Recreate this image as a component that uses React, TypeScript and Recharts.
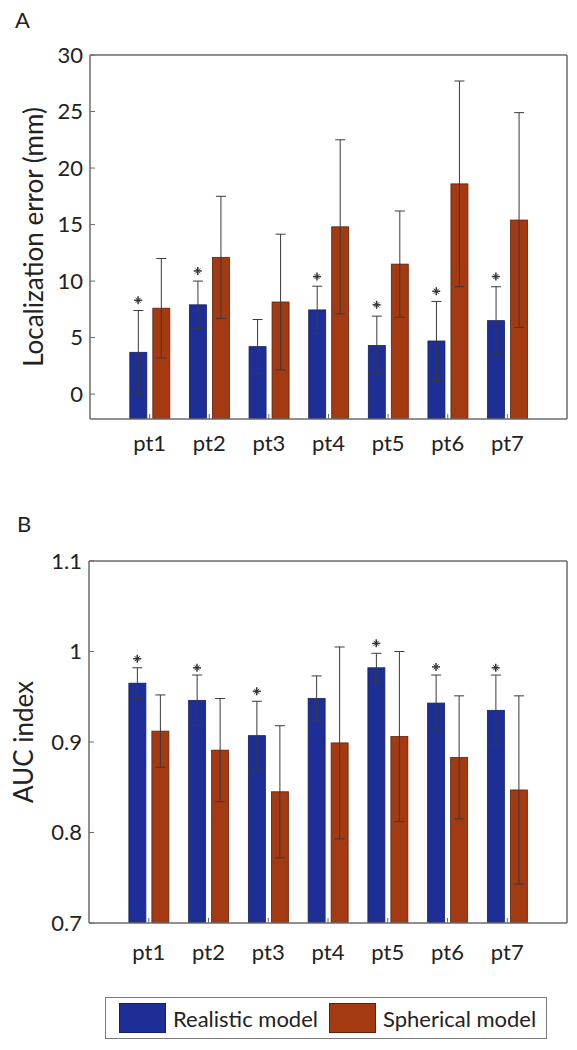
import React from 'react';
import { ComposedChart, Bar, Scatter, XAxis, YAxis, ErrorBar } from 'recharts';

const patients = ['pt1', 'pt2', 'pt3', 'pt4', 'pt5', 'pt6', 'pt7'];

// panel A: localization error (mm)
const locRealistic = [3.7, 7.9, 4.2, 7.45, 4.3, 4.7, 6.5];
const locRealisticSd = [3.7, 2.1, 2.4, 2.1, 2.6, 3.5, 3.0];
const locSpherical = [7.6, 12.1, 8.15, 14.8, 11.5, 18.6, 15.4];
const locSphericalSd = [4.4, 5.4, 6.0, 7.7, 4.7, 9.1, 9.5];
const locStars = [8.3, 10.9, null, 10.4, 7.9, 9.1, 10.4];
const locTicks = [0, 5, 10, 15, 20, 25, 30];

// panel B: AUC index
const aucRealistic = [0.965, 0.946, 0.907, 0.948, 0.982, 0.943, 0.935];
const aucRealisticSd = [0.017, 0.028, 0.038, 0.025, 0.016, 0.031, 0.039];
const aucSpherical = [0.912, 0.891, 0.845, 0.899, 0.906, 0.883, 0.847];
const aucSphericalSd = [0.04, 0.057, 0.073, 0.106, 0.094, 0.068, 0.104];
const aucStars = [0.992, 0.982, 0.956, null, 1.009, 0.983, 0.982];
const aucTicks = [0.7, 0.8, 0.9, 1, 1.1];

const BLUE = '#1d2f97';
const RED = '#a33a12';
const AXIS = '#6b6b6b';
const INK = '#222';
const FONT = 'Lato, "DejaVu Sans", sans-serif';
const BAR_SIZE = 17;
const BAR_GAP = 6;

const buildRows = (r: number[], rsd: number[], s: number[], ssd: number[], stars: (number | null)[]) =>
  patients.map((name, i) => ({
    name,
    realistic: r[i],
    realisticSd: rsd[i],
    spherical: s[i],
    sphericalSd: ssd[i],
    star: stars[i],
  }));

const locData = buildRows(locRealistic, locRealisticSd, locSpherical, locSphericalSd, locStars);
const aucData = buildRows(aucRealistic, aucRealisticSd, aucSpherical, aucSphericalSd, aucStars);

// matlab-style bars run down to the bottom of the axes box
const FloorBar = (p: any) => {
  const bottom = p.background ? p.background.y + p.background.height : p.y + p.height;
  return (
    <rect
      x={p.x}
      y={p.y}
      width={p.width}
      height={Math.max(bottom - p.y, 0)}
      fill={p.fill}
      stroke={p.stroke}
      strokeWidth={p.strokeWidth}
    />
  );
};

// significance mark, drawn above the blue bar of the group
const StarMark = (props: any) => {
  const { cx, cy, payload } = props;
  if (payload == null || payload.star == null || cx == null || cy == null) return <g />;
  const x = cx - (BAR_SIZE + BAR_GAP) / 2;
  return (
    <g stroke="#333" strokeWidth={1.5}>
      <line x1={x - 4} y1={cy} x2={x + 4} y2={cy} />
      <line x1={x} y1={cy - 4} x2={x} y2={cy + 4} />
      <line x1={x - 2.5} y1={cy - 2.5} x2={x + 2.5} y2={cy + 2.5} strokeWidth={1} />
      <line x1={x - 2.5} y1={cy + 2.5} x2={x + 2.5} y2={cy - 2.5} strokeWidth={1} />
    </g>
  );
};

type PanelProps = {
  data: any[];
  domain: [number, number];
  ticks: number[];
  yLabel: string;
  labelX: number;
  height: number;
  top: number;
  axisWidth: number;
  xAxisHeight: number;
  xTickMargin: number;
};

const Panel = ({ data, domain, ticks, yLabel, labelX, height, top, axisWidth, xAxisHeight, xTickMargin }: PanelProps) => {
  const pad = (577 - 9 - 1 - axisWidth) / 16;
  return (
    <ComposedChart
      width={577}
      height={height}
      data={data}
      margin={{ top: top, right: 9, bottom: 0, left: 0 }}
      barSize={BAR_SIZE}
      barGap={BAR_GAP}
    >
      <XAxis
        dataKey="name"
        padding={{ left: pad, right: pad }}
        height={xAxisHeight}
        axisLine={{ stroke: AXIS, strokeWidth: 1.5 }}
        tickLine={{ stroke: AXIS }}
        tickSize={-5}
        tickMargin={xTickMargin}
        tick={{ fontSize: 22, fill: INK }}
      />
      <XAxis
        xAxisId="top"
        dataKey="name"
        orientation="top"
        padding={{ left: pad, right: pad }}
        height={1}
        axisLine={{ stroke: AXIS, strokeWidth: 1.5 }}
        tickLine={{ stroke: AXIS }}
        tickSize={-5}
        tick={false}
      />
      <YAxis
        domain={domain}
        ticks={ticks}
        allowDataOverflow
        width={axisWidth}
        axisLine={{ stroke: AXIS, strokeWidth: 1.5 }}
        tickLine={{ stroke: AXIS }}
        tickSize={-5}
        tickMargin={12}
        tick={{ fontSize: 22, fill: INK }}
        label={{
          value: yLabel,
          content: (p: any) => {
            const vb = p.viewBox;
            const x = vb.x + labelX;
            const y = vb.y + vb.height / 2;
            return (
              <text
                x={x}
                y={y}
                transform={`rotate(-90, ${x}, ${y})`}
                textAnchor="middle"
                dominantBaseline="central"
                fontSize={26}
                fill={INK}
              >
                {yLabel}
              </text>
            );
          },
        }}
      />
      <YAxis
        yAxisId="right"
        orientation="right"
        domain={domain}
        ticks={ticks}
        allowDataOverflow
        width={1}
        axisLine={{ stroke: AXIS, strokeWidth: 1.5 }}
        tickLine={{ stroke: AXIS }}
        tickSize={-5}
        tick={false}
      />
      <Bar dataKey="realistic" fill={BLUE} stroke="#15205e" strokeWidth={0.8} shape={FloorBar} isAnimationActive={false}>
        <ErrorBar dataKey="realisticSd" width={5} stroke="#3a3a3a" strokeWidth={1} direction="y" />
      </Bar>
      <Bar dataKey="spherical" fill={RED} stroke="#5e220c" strokeWidth={0.8} shape={FloorBar} isAnimationActive={false}>
        <ErrorBar dataKey="sphericalSd" width={5} stroke="#3a3a3a" strokeWidth={1} direction="y" />
      </Bar>
      <Scatter dataKey="star" shape={StarMark} isAnimationActive={false} />
    </ComposedChart>
  );
};

const Swatch = ({ color, border }: { color: string; border: string }) => (
  <div style={{ width: 45, height: 28, background: color, border: `1px solid ${border}` }} />
);

export default function App() {
  return (
    <div style={{ position: 'absolute', left: 0, top: 0, width: 577, height: 1050, background: '#fff', fontFamily: FONT }}>
      <div style={{ position: 'absolute', left: 15, top: 9, fontSize: 22, lineHeight: '22px', color: INK }}>A</div>
      <div style={{ position: 'absolute', left: 0, top: 0 }}>
        <Panel
          data={locData}
          domain={[-2.2, 30]}
          ticks={locTicks}
          yLabel="Localization error (mm)"
          labelX={33}
          height={470}
          top={54}
          axisWidth={90}
          xAxisHeight={51}
          xTickMargin={21}
        />
      </div>
      <div style={{ position: 'absolute', left: 17, top: 513, fontSize: 22, lineHeight: '22px', color: INK }}>B</div>
      <div style={{ position: 'absolute', left: 0, top: 500 }}>
        <Panel
          data={aucData}
          domain={[0.7, 1.1]}
          ticks={aucTicks}
          yLabel="AUC index"
          labelX={23}
          height={480}
          top={60}
          axisWidth={89}
          xAxisHeight={57}
          xTickMargin={26}
        />
      </div>
      <div
        style={{
          position: 'absolute',
          left: 105,
          top: 997,
          width: 442,
          height: 42,
          border: '1px solid #7a7a7a',
          display: 'flex',
          alignItems: 'center',
          fontSize: 22,
          color: INK,
          boxSizing: 'border-box',
        }}
      >
        <div style={{ marginLeft: 13 }}>
          <Swatch color={BLUE} border="#15205e" />
        </div>
        <span style={{ marginLeft: 7 }}>Realistic model</span>
        <div style={{ marginLeft: 11 }}>
          <Swatch color={RED} border="#5e220c" />
        </div>
        <span style={{ marginLeft: 7 }}>Spherical model</span>
      </div>
    </div>
  );
}
